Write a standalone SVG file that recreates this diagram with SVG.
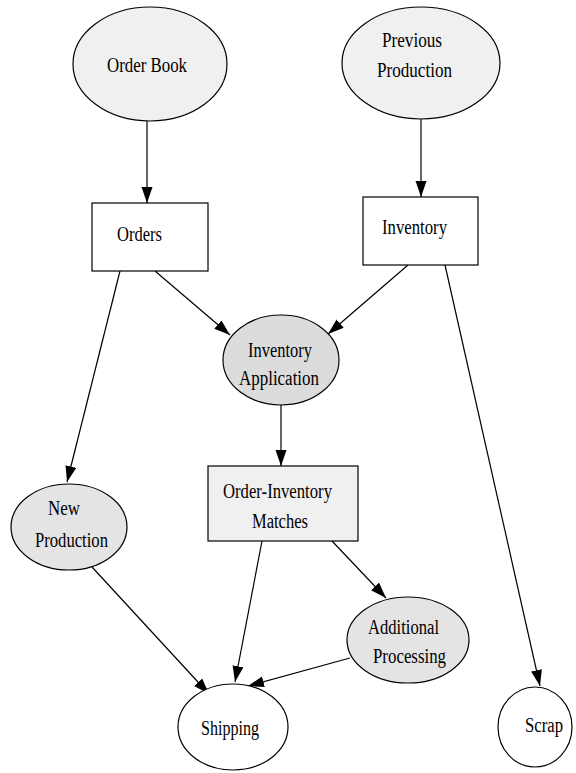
<svg xmlns="http://www.w3.org/2000/svg" width="576" height="773" viewBox="0 0 576 773">
  <style>
    .n { stroke: #000; stroke-width: 1.2; }
    .light { fill: #f0f0f0; }
    .mid { fill: #dcdcdc; }
    .soft { fill: #e4e4e4; }
    .white { fill: #fff; }
    text { font-family: "Liberation Serif", "Times New Roman", serif; font-size: 20px; fill: #000; }
    .e { stroke: #000; stroke-width: 1.2; fill: none; marker-end: url(#ah); }
  </style>
  <defs>
    <marker id="ah" markerUnits="userSpaceOnUse" markerWidth="17" markerHeight="12" refX="16" refY="5.5" orient="auto">
      <path d="M0,0 L16,5.5 L0,11 Z" fill="#000"/>
    </marker>
  </defs>
  <rect width="576" height="773" fill="#fff"/>

  <g id="connectors">
    <line class="e" x1="147" y1="121" x2="147" y2="203"/>
    <line class="e" x1="421" y1="119" x2="421" y2="197"/>
    <line class="e" x1="155" y1="271" x2="230" y2="335"/>
    <line class="e" x1="408" y1="265" x2="328" y2="334"/>
    <line class="e" x1="120" y1="271" x2="67" y2="482"/>
    <line class="e" x1="445" y1="265" x2="540" y2="686"/>
    <line class="e" x1="281" y1="405" x2="281" y2="466"/>
    <line class="e" x1="262" y1="541" x2="235" y2="682"/>
    <line class="e" x1="332" y1="541" x2="386" y2="598"/>
    <line class="e" x1="92" y1="567" x2="209" y2="694"/>
    <line class="e" x1="350" y1="658" x2="248" y2="686"/>
  </g>

  <g id="order-book">
    <ellipse class="n light" cx="150" cy="64" rx="77" ry="57"/>
    <text x="107" y="72" textLength="80" lengthAdjust="spacingAndGlyphs">Order Book</text>
  </g>

  <g id="previous-production">
    <ellipse class="n light" cx="421" cy="63" rx="79" ry="56"/>
    <text x="382" y="47" textLength="60" lengthAdjust="spacingAndGlyphs">Previous</text>
    <text x="377" y="77" textLength="75" lengthAdjust="spacingAndGlyphs">Production</text>
  </g>

  <g id="orders">
    <rect class="n white" x="92" y="203" width="116" height="68"/>
    <text x="117" y="241" textLength="45" lengthAdjust="spacingAndGlyphs">Orders</text>
  </g>

  <g id="inventory">
    <rect class="n white" x="363" y="197" width="115" height="68"/>
    <text x="382" y="234" textLength="65" lengthAdjust="spacingAndGlyphs">Inventory</text>
  </g>

  <g id="inventory-application">
    <ellipse class="n mid" cx="281" cy="360" rx="58" ry="45"/>
    <text x="248" y="357" textLength="64" lengthAdjust="spacingAndGlyphs">Inventory</text>
    <text x="239" y="385" textLength="80" lengthAdjust="spacingAndGlyphs">Application</text>
  </g>

  <g id="order-inventory-matches">
    <rect class="n light" x="208" y="466" width="150" height="75"/>
    <text x="223" y="498" textLength="109" lengthAdjust="spacingAndGlyphs">Order-Inventory</text>
    <text x="252" y="528" textLength="56" lengthAdjust="spacingAndGlyphs">Matches</text>
  </g>

  <g id="new-production">
    <ellipse class="n soft" cx="69" cy="527" rx="58" ry="43"/>
    <text x="48" y="515" textLength="32" lengthAdjust="spacingAndGlyphs">New</text>
    <text x="35" y="547" textLength="73" lengthAdjust="spacingAndGlyphs">Production</text>
  </g>

  <g id="additional-processing">
    <ellipse class="n soft" cx="408" cy="640" rx="61" ry="43"/>
    <text x="368" y="634" textLength="71" lengthAdjust="spacingAndGlyphs">Additional</text>
    <text x="373" y="663" textLength="73" lengthAdjust="spacingAndGlyphs">Processing</text>
  </g>

  <g id="shipping">
    <ellipse class="n white" cx="233" cy="727" rx="55" ry="43"/>
    <text x="201" y="735" textLength="58" lengthAdjust="spacingAndGlyphs">Shipping</text>
  </g>

  <g id="scrap">
    <ellipse class="n white" cx="535" cy="727" rx="37" ry="40"/>
    <text x="525" y="732" textLength="38" lengthAdjust="spacingAndGlyphs">Scrap</text>
  </g>
</svg>
